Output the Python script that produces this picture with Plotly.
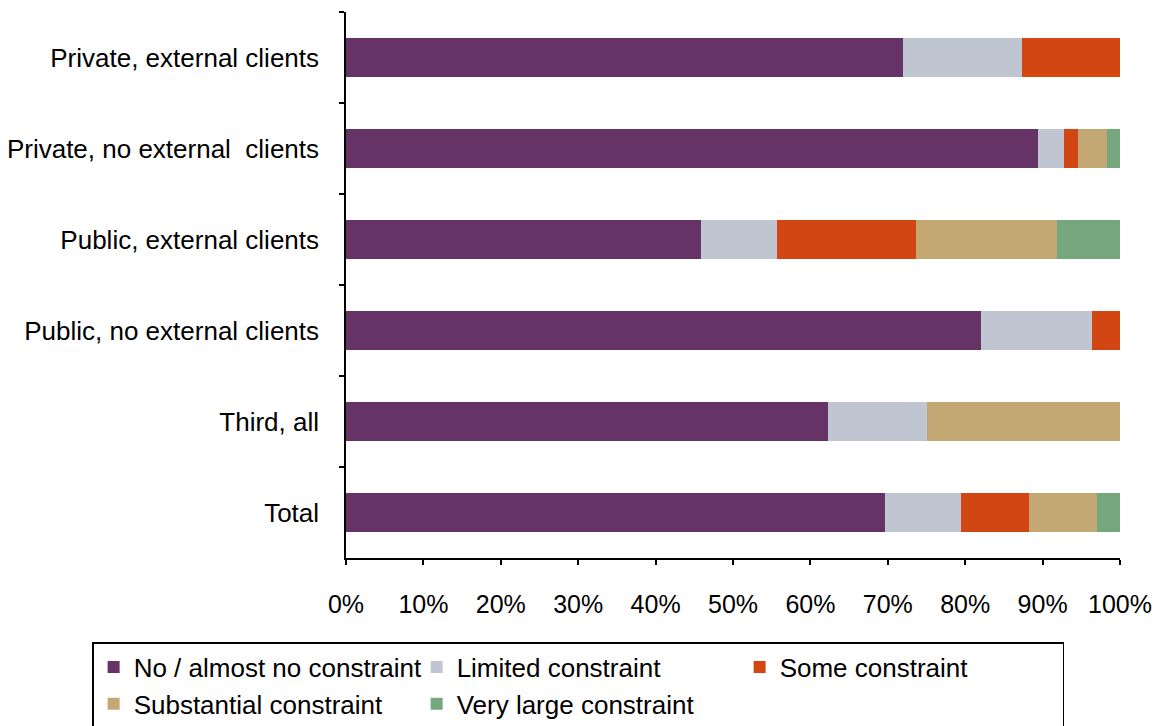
import plotly.graph_objects as go

categories = ["Private, external clients", "Private, no external  clients", "Public, external clients",
              "Public, no external clients", "Third, all", "Total"]
series_names = ["No / almost no constraint", "Limited constraint", "Some constraint",
                "Substantial constraint", "Very large constraint"]
no_constraint = [71.9, 89.4, 45.9, 82.0, 62.3, 69.6]
limited = [15.5, 3.4, 9.8, 14.4, 12.7, 9.8]
some = [12.6, 1.8, 18.0, 3.6, 0.0, 8.8]
substantial = [0.0, 3.7, 18.1, 0.0, 25.0, 8.8]
very_large = [0.0, 1.7, 8.2, 0.0, 0.0, 3.0]
x_ticks = [0, 10, 20, 30, 40, 50, 60, 70, 80, 90, 100]
x_tick_labels = [f"{v}%" for v in x_ticks]

colors = ["#653366", "#BFC5D1", "#D24614", "#C4A874", "#76A77F"]
values = [no_constraint, limited, some, substantial, very_large]

FONT = "Liberation Sans, Arial, sans-serif"

fig = go.Figure()
for name, vals, col in zip(series_names, values, colors):
    fig.add_trace(go.Bar(
        y=categories, x=vals, name=name, orientation="h",
        marker=dict(color=col, line=dict(width=0)), width=0.42,
    ))

# page body has an 8px margin, so the figure is sized/margined to compensate
fig.update_layout(
    barmode="stack",
    width=1159, height=718,
    margin=dict(l=338, r=47, t=4, b=168, autoexpand=False),
    paper_bgcolor="white", plot_bgcolor="white",
    font=dict(family=FONT, color="#000000"),
    showlegend=True,
    legend=dict(
        orientation="h", x=-0.328, xanchor="left", y=-0.154, yanchor="top",
        bordercolor="#000000", borderwidth=1.5, bgcolor="white",
        font=dict(size=26, family=FONT, color="#000000"),
        entrywidth=278, entrywidthmode="pixels", itemwidth=30,
        traceorder="normal",
    ),
)
fig.update_xaxes(
    range=[0, 100], tickvals=x_ticks, ticktext=x_tick_labels,
    showgrid=False, zeroline=False,
    showline=True, linecolor="#000000", linewidth=1.5,
    ticks="outside", ticklen=5, tickcolor="#000000", tickwidth=1.5,
    tickfont=dict(size=25, family=FONT, color="#000000"),
    ticklabelstandoff=18, automargin=False,
)
fig.update_yaxes(
    categoryorder="array", categoryarray=categories, autorange="reversed",
    showgrid=False, zeroline=False,
    showline=True, linecolor="#000000", linewidth=1.5,
    ticks="outside", ticklen=5, tickcolor="#000000", tickwidth=1.5,
    tickson="boundaries",
    tickfont=dict(size=26, family=FONT, color="#000000"),
    ticklabelstandoff=20, automargin=False,
)

fig.write_html("out.html")
